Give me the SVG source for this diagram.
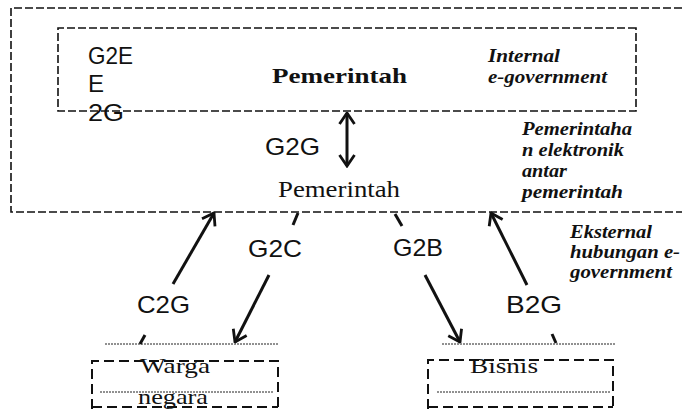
<svg xmlns="http://www.w3.org/2000/svg" width="682" height="409" viewBox="0 0 682 409">
<style>
.dash{fill:none;stroke:#111;stroke-width:1.6;stroke-dasharray:8 3}
.box{fill:none;stroke:#111;stroke-width:2;stroke-dasharray:10 5}
.dot{fill:none;stroke:#222;stroke-width:1;stroke-dasharray:2 1}
.arr{fill:none;stroke:#111;stroke-width:3}
.lab{font-family:"Liberation Sans",Arial,sans-serif;font-size:24px;fill:#111}
.ser{font-family:"Liberation Serif","Times New Roman",serif;fill:#111}
.note{font-family:"Liberation Serif","Times New Roman",serif;font-weight:bold;font-style:italic;font-size:18.5px;fill:#111}
</style>
<defs>
<marker id="head" viewBox="0 0 14 18" refX="12.5" refY="9" markerWidth="14" markerHeight="18" markerUnits="userSpaceOnUse" orient="auto-start-reverse">
<path d="M1.5,1.5 L12.5,9 L1.5,16.5" fill="none" stroke="#111" stroke-width="2.8"/>
</marker>
</defs>

<!-- outer government frame -->
<g id="frame-government">
<path class="dash" d="M682,8 H11 V212 H682"/>
<text class="note" x="522" y="135" textLength="110" lengthAdjust="spacingAndGlyphs">Pemerintaha</text>
<text class="note" x="522" y="156" textLength="102" lengthAdjust="spacingAndGlyphs">n elektronik</text>
<text class="note" x="522" y="177" textLength="45" lengthAdjust="spacingAndGlyphs">antar</text>
<text class="note" x="522" y="198" textLength="101" lengthAdjust="spacingAndGlyphs">pemerintah</text>
</g>

<!-- internal e-government box -->
<g id="node-internal">
<path class="dash" d="M636,28 H58 V111 H636 Z"/>
<text class="lab" x="88" y="64" textLength="45" lengthAdjust="spacingAndGlyphs">G2E</text>
<text class="lab" x="88" y="92">E</text>
<text class="lab" x="88" y="121" textLength="36" lengthAdjust="spacingAndGlyphs">2G</text>
<text class="ser" x="272" y="83" font-size="22" font-weight="bold" textLength="135" lengthAdjust="spacingAndGlyphs">Pemerintah</text>
<text class="note" x="488" y="62" textLength="72" lengthAdjust="spacingAndGlyphs">Internal</text>
<text class="note" x="488" y="83" textLength="119" lengthAdjust="spacingAndGlyphs">e-government</text>
</g>

<!-- lower government node -->
<g id="node-pemerintah">
<text class="ser" x="278" y="197" font-size="23" textLength="122" lengthAdjust="spacingAndGlyphs">Pemerintah</text>
</g>

<!-- external note -->
<g id="note-eksternal">
<text class="note" x="570" y="238" textLength="82" lengthAdjust="spacingAndGlyphs">Eksternal</text>
<text class="note" x="570" y="258" textLength="110" lengthAdjust="spacingAndGlyphs">hubungan e-</text>
<text class="note" x="570" y="278" textLength="102" lengthAdjust="spacingAndGlyphs">government</text>
</g>

<!-- citizens node -->
<g id="node-warga">
<path class="dot" d="M105,344 H278"/>
<path class="box" d="M92,409 V361 H278 V409"/>
<path class="dot" d="M100,392 H273"/>
<path class="box" d="M92,407 H278"/>
<text class="ser" x="140" y="373" font-size="22" textLength="70" lengthAdjust="spacingAndGlyphs">Warga</text>
<text class="ser" x="138" y="404" font-size="22" textLength="70" lengthAdjust="spacingAndGlyphs">negara</text>
</g>

<!-- business node -->
<g id="node-bisnis">
<path class="dot" d="M442,344 H615"/>
<path class="box" d="M428,409 V360 H613 V409"/>
<path class="dot" d="M437,392 H610"/>
<path class="box" d="M428,407 H613"/>
<text class="ser" x="470" y="373" font-size="22" textLength="68" lengthAdjust="spacingAndGlyphs">Bisnis</text>
</g>

<!-- connectors -->
<g id="connectors">
<line class="arr" x1="347" y1="113" x2="347" y2="166" marker-start="url(#head)" marker-end="url(#head)"/>
<line class="arr" x1="173" y1="284" x2="214" y2="213" marker-end="url(#head)"/>
<line class="arr" x1="145" y1="335" x2="140" y2="344"/>
<line class="arr" x1="298" y1="213" x2="293" y2="225"/>
<line class="arr" x1="269" y1="275" x2="235" y2="342" marker-end="url(#head)"/>
<line class="arr" x1="395" y1="214" x2="402" y2="226"/>
<line class="arr" x1="425" y1="275" x2="460" y2="342" marker-end="url(#head)"/>
<line class="arr" x1="527" y1="285" x2="491" y2="213" marker-end="url(#head)"/>
<line class="arr" x1="552" y1="334" x2="556" y2="343"/>
<text class="lab" x="265" y="155" textLength="55" lengthAdjust="spacingAndGlyphs">G2G</text>
<text class="lab" x="248" y="257" textLength="54" lengthAdjust="spacingAndGlyphs">G2C</text>
<text class="lab" x="393" y="256" textLength="50" lengthAdjust="spacingAndGlyphs">G2B</text>
<text class="lab" x="137" y="313" textLength="53" lengthAdjust="spacingAndGlyphs">C2G</text>
<text class="lab" x="506" y="313" textLength="56" lengthAdjust="spacingAndGlyphs">B2G</text>
</g>
</svg>
